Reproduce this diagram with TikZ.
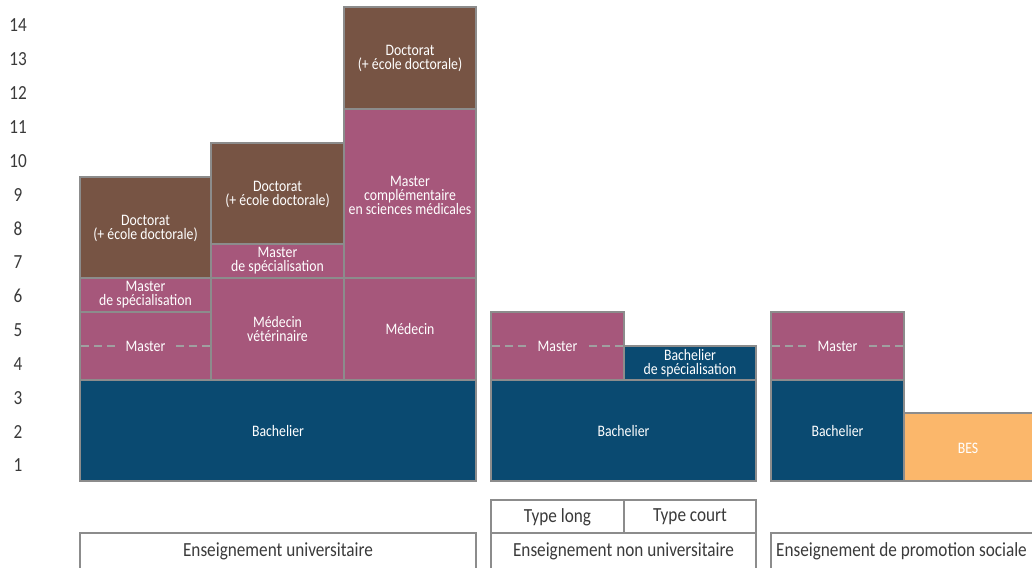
\documentclass[tikz,border=0pt]{standalone}
\usepackage{fontspec}
\setmainfont{Carlito}[FakeStretch=0.86]
\usepackage{tikz}
\usetikzlibrary{positioning}
\definecolor{docbrown}{HTML}{775444}
\definecolor{mastpink}{HTML}{A6577B}
\definecolor{bachblue}{HTML}{0A4A71}
\definecolor{besorange}{HTML}{FBB76B}
\definecolor{rulegray}{HTML}{8C8C8C}
\definecolor{dashgray}{HTML}{A0A0A0}
\definecolor{labgray}{HTML}{3A3A3A}
\tikzstyle{every node}=[font=\fontsize{16}{14}\selectfont,align=center,text=white]
\tikzstyle{box}=[draw=rulegray,line width=2pt]
\tikzstyle{legbox}=[draw=rulegray,line width=1.8pt]
\tikzstyle{leg}=[font=\fontsize{20}{20}\selectfont,text=labgray]
\tikzstyle{dashline}=[draw=dashgray,line width=2pt,dash pattern=on 8pt off 5pt]

\begin{document}
\begin{tikzpicture}[x=1pt,y=-1pt]
\useasboundingbox (0,0) rectangle (1032,567);
% years
\foreach \n in {1,...,14}
  \node[leg] (yr\n) at (18,{481-33.85*\n+18.4}) {\n};
% enseignement universitaire
\draw [box,fill=bachblue] (80,380) rectangle (476,481);
\node (bach1) at (278,431) {Bachelier};
\draw [box,fill=mastpink] (80,312) rectangle (211,380);
\node[inner xsep=10pt] (mast1) at (145.5,346) {Master};
\draw [dashline] (81,346) -- (mast1.west);
\draw [dashline] (210,346) -- (mast1.east);
\draw [box,fill=mastpink] (80,278) rectangle (211,312);
\node (mspec1) at (145.5,295) {Master\\de spécialisation};
\draw [box,fill=docbrown] (80,177) rectangle (211,278);
\node (doc1) at (145.5,228) {Doctorat\\(+ école doctorale)};
\draw [box,fill=mastpink] (211,278) rectangle (344,380);
\node (vet) at (277.5,329) {Médecin\\vétérinaire};
\draw [box,fill=mastpink] (211,244) rectangle (344,278);
\node (mspec2) at (277.5,261) {Master\\de spécialisation};
\draw [box,fill=docbrown] (211,143) rectangle (344,244);
\node (doc2) at (277.5,194) {Doctorat\\(+ école doctorale)};
\draw [box,fill=mastpink] (344,278) rectangle (476,380);
\node (med) at (410,329) {Médecin};
\draw [box,fill=mastpink] (344,109) rectangle (476,278);
\node (mcomp) at (410,195) {Master\\complémentaire\\en sciences médicales};
\draw [box,fill=docbrown] (344,7) rectangle (476,109);
\node (doc3) at (410,58) {Doctorat\\(+ école doctorale)};
% enseignement non universitaire
\draw [box,fill=bachblue] (491,380) rectangle (756,481);
\node (bach2) at (623.5,431) {Bachelier};
\draw [box,fill=mastpink] (491,312) rectangle (624,380);
\node[inner xsep=10pt] (mast2) at (557.5,346) {Master};
\draw [dashline] (492,346) -- (mast2.west);
\draw [dashline] (623,346) -- (mast2.east);
\draw [box,fill=bachblue] (624,346) rectangle (756,380);
\node (bspec) at (690,363) {Bachelier\\de spécialisation};
% promotion sociale
\draw [box,fill=bachblue] (771,380) rectangle (904,481);
\node (bach3) at (837.5,431) {Bachelier};
\draw [box,fill=mastpink] (771,312) rectangle (904,380);
\node[inner xsep=10pt] (mast3) at (837.5,346) {Master};
\draw [dashline] (772,346) -- (mast3.west);
\draw [dashline] (903,346) -- (mast3.east);
\draw [box,fill=besorange] (904,413) rectangle (1040,481);
\node (bes) at (968,448) {BES};
% legend
\draw [legbox] (491,500) rectangle (624,533);
\node[leg] (tlong) at (557.5,517) {Type long};
\draw [legbox] (624,500) rectangle (756,533);
\node[leg] (tcourt) at (690,517) {Type court};
\draw [legbox] (80,533) rectangle (476,580);
\node[leg] (univ) at (278,551) {Enseignement universitaire};
\draw [legbox] (491,533) rectangle (756,580);
\node[leg] (nonuniv) at (623.5,551) {Enseignement non universitaire};
\draw [legbox] (771,533) rectangle (1040,580);
\node[leg,anchor=west,inner xsep=2pt] (promsoc) at (774,551) {Enseignement de promotion sociale};
\end{tikzpicture}
\end{document}
